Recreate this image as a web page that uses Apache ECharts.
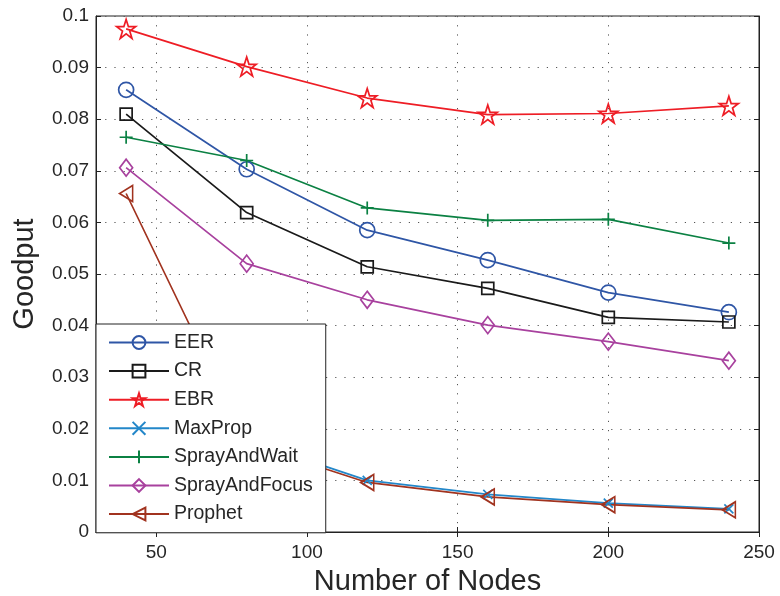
<!DOCTYPE html>
<html>
<head>
<meta charset="utf-8">
<script src="https://cdn.jsdelivr.net/npm/echarts@6/dist/echarts.min.js"></script>
<style>
html,body{margin:0;padding:0;background:#fff;}
#c{width:780px;height:596px;}
</style>
</head>
<body>
<div id="c"></div>
<script>
const nodes = [40, 80, 120, 160, 200, 240];
const xTicks = [50, 100, 150, 200, 250];
const seriesNames = ['EER', 'CR', 'EBR', 'MaxProp', 'SprayAndWait', 'SprayAndFocus', 'Prophet'];
const EER = [0.0857, 0.0703, 0.0585, 0.0527, 0.0464, 0.0426];
const CR = [0.0810, 0.0619, 0.0514, 0.0472, 0.0416, 0.0407];
const EBR = [0.0975, 0.0902, 0.0841, 0.0809, 0.0811, 0.0826];
const MaxProp = [0.0350, 0.0178, 0.0100, 0.0073, 0.0056, 0.0045];
const SprayAndWait = [0.0765, 0.0720, 0.0628, 0.0604, 0.0606, 0.0560];
const SprayAndFocus = [0.0706, 0.0520, 0.0450, 0.0401, 0.0369, 0.0332];
const Prophet = [0.0656, 0.0172, 0.0096, 0.0068, 0.0053, 0.0043];

const values = [EER, CR, EBR, MaxProp, SprayAndWait, SprayAndFocus, Prophet];
const colors = ['#2F56A6', '#1a1a1a', '#EE1D25', '#2387C9', '#0B8143', '#A8419E', '#A1331F'];
const symbols = [
  'circle',
  'rect',
  'path://M50,0 L61.8,35.1 L98.9,35.1 L68.8,56.7 L80.2,91.9 L50,70.2 L19.8,91.9 L31.2,56.7 L1.1,35.1 L38.2,35.1 Z',
  'path://M0,0L10,10M10,0L0,10',
  'path://M5,0L5,10M0,5L10,5',
  'diamond',
  'path://M0,5L10,0L10,10Z'
];
const sizes = [15, 12, 19, 9, 13, [13, 17], [13, 16]];

const font = "'Liberation Sans', Arial, Helvetica, sans-serif";
const txt = '#262626';

const chart = echarts.init(document.getElementById('c'), null, {renderer: 'canvas'});

const series = seriesNames.map((n, i) => ({
  name: n,
  type: 'line',
  data: nodes.map((x, j) => [x, values[i][j]]),
  color: colors[i],
  symbol: symbols[i],
  symbolSize: sizes[i],
  showAllSymbol: true,
  lineStyle: {color: colors[i], width: 1.7},
  itemStyle: {color: 'rgba(0,0,0,0)', borderColor: colors[i], borderWidth: 1.7},
  emphasis: {disabled: true},
  z: 2
}));

const splitStyle = {show: true, lineStyle: {color: '#555', type: [1.2, 8], width: 1}};

chart.setOption({
  animation: false,
  backgroundColor: '#fff',
  grid: {left: 96, right: 21, top: 16, bottom: 64, outerBoundsMode: 'none', containLabel: false,
    show: true, borderColor: '#222', borderWidth: 1, backgroundColor: 'transparent'},
  legend: {
    orient: 'vertical',
    left: 96,
    top: 324,
    itemWidth: 60,
    itemHeight: 16,
    itemGap: 8.6,
    padding: [8.5, 13, 8.7, 12],
    backgroundColor: '#fff',
    borderColor: '#222',
    borderWidth: 1,
    borderRadius: 0,
    textStyle: {fontFamily: font, fontSize: 19.5, color: txt},
    data: seriesNames,
    selectedMode: false
  },
  xAxis: [{
    type: 'value',
    min: 30,
    max: 250,
    name: 'Number of Nodes',
    nameLocation: 'middle',
    nameGap: 35,
    nameTextStyle: {fontFamily: font, fontSize: 29, color: txt},
    axisLine: {show: true, lineStyle: {color: '#222', width: 1}},
    axisTick: {show: true, inside: true, length: 5, customValues: xTicks, lineStyle: {color: '#222'}},
    axisLabel: {fontFamily: font, fontSize: 19, color: txt, margin: 11, customValues: xTicks},
    splitLine: Object.assign({customValues: xTicks}, splitStyle)
  }, {
    type: 'value',
    position: 'top',
    min: 30,
    max: 250,
    axisLine: {show: true, lineStyle: {color: '#222', width: 1}},
    axisTick: {show: true, inside: true, length: 5, customValues: xTicks, lineStyle: {color: '#222'}},
    axisLabel: {show: false},
    splitLine: {show: false}
  }],
  yAxis: [{
    type: 'value',
    min: 0,
    max: 0.1,
    interval: 0.01,
    name: 'Goodput',
    nameLocation: 'middle',
    nameGap: 57,
    nameRotate: 90,
    nameTextStyle: {fontFamily: font, fontSize: 29, color: txt},
    axisLine: {show: true, lineStyle: {color: '#222', width: 1}},
    axisTick: {show: true, inside: true, length: 5, lineStyle: {color: '#222'}},
    axisLabel: {fontFamily: font, fontSize: 19, color: txt, margin: 7,
      formatter: v => String(+v.toFixed(3))},
    splitLine: splitStyle
  }, {
    type: 'value',
    position: 'right',
    min: 0,
    max: 0.1,
    interval: 0.01,
    axisLine: {show: true, lineStyle: {color: '#222', width: 1}},
    axisTick: {show: true, inside: true, length: 5, lineStyle: {color: '#222'}},
    axisLabel: {show: false},
    splitLine: {show: false}
  }],
  series: series
});
</script>
</body>
</html>
